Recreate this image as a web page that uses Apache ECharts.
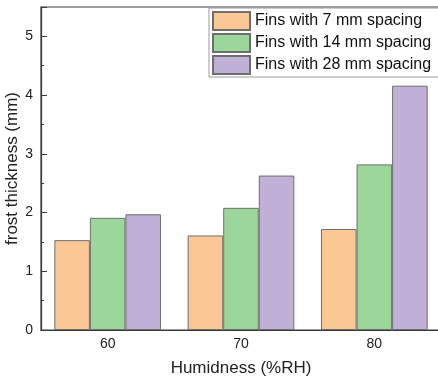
<!DOCTYPE html>
<html>
<head>
<meta charset="utf-8">
<script src="https://cdn.jsdelivr.net/npm/echarts@6/dist/echarts.min.js"></script>
<style>
  html, body { margin: 0; padding: 0; background: #fff; }
  #chart { width: 438px; height: 379px; }
</style>
</head>
<body>
<div id="chart"></div>
<script>
// Humidity levels (%RH) and frost thickness (mm) per fin spacing
const humidity = ['60', '70', '80'];
const fins7mm = [1.53, 1.61, 1.72];
const fins14mm = [1.91, 2.08, 2.82];
const fins28mm = [1.97, 2.63, 4.16];
const seriesNames = ['Fins with 7 mm spacing', 'Fins with 14 mm spacing', 'Fins with 28 mm spacing'];
const seriesColors = ['#FBC795', '#9DD69A', '#C1B0D6'];

const FONT = '"Liberation Sans", Arial, sans-serif';
const AXIS_COLOR = '#3a3a3a';

const chart = echarts.init(document.getElementById('chart'), null, { renderer: 'canvas' });

function barSeries(name, data, color) {
  return {
    name: name,
    type: 'bar',
    data: data,
    barGap: '0%',
    barCategoryGap: '20%',
    itemStyle: { color: color, borderColor: '#6e6e6e', borderWidth: 1 },
    emphasis: { disabled: true }
  };
}

chart.setOption({
  animation: false,
  grid: {
    left: 41, top: 7, width: 400, bottom: 49,
    outerBoundsMode: 'none',
    containLabel: false,
    show: true, borderColor: AXIS_COLOR, borderWidth: 1.2, backgroundColor: 'transparent'
  },
  legend: {
    orient: 'vertical',
    left: 209, top: 8,
    itemWidth: 37, itemHeight: 18, itemGap: 2,
    padding: [3, 20, 2, 3],
    borderColor: '#9a9a9a', borderWidth: 1,
    backgroundColor: '#fff',
    icon: 'rect',
    selectedMode: false,
    textStyle: { fontFamily: FONT, fontSize: 16, color: '#111' },
    data: seriesNames
  },
  xAxis: [
    {
      type: 'category',
      data: humidity,
      name: 'Humidness (%RH)',
      nameLocation: 'middle',
      nameGap: 30,
      nameMoveOverlap: false,
      nameTextStyle: { fontFamily: FONT, fontSize: 17, color: '#222' },
      axisLine: { lineStyle: { color: AXIS_COLOR, width: 1.2 } },
      axisTick: { alignWithLabel: true, inside: true, length: 6, lineStyle: { color: AXIS_COLOR } },
      axisLabel: { fontFamily: FONT, fontSize: 14, color: '#222', margin: 7 }
    },
    {
      type: 'category',
      data: humidity,
      position: 'bottom',
      axisLine: { show: false },
      axisTick: { inside: true, length: 3, lineStyle: { color: AXIS_COLOR } },
      axisLabel: { show: false }
    }
  ],
  yAxis: {
    type: 'value',
    min: 0, max: 5.5, interval: 1,
    name: 'frost thickness (mm)',
    nameLocation: 'middle',
    nameGap: 20,
    nameMoveOverlap: false,
    nameTextStyle: { fontFamily: FONT, fontSize: 17, color: '#222' },
    axisLine: { show: true, lineStyle: { color: AXIS_COLOR, width: 1.2 } },
    axisTick: { show: true, inside: true, length: 6, lineStyle: { color: AXIS_COLOR } },
    minorTick: { show: true, splitNumber: 2, length: 3, lineStyle: { color: AXIS_COLOR } },
    axisLabel: { fontFamily: FONT, fontSize: 14, color: '#222', margin: 8, showMaxLabel: false },
    splitLine: { show: false }
  },
  series: [
    barSeries(seriesNames[0], fins7mm, seriesColors[0]),
    barSeries(seriesNames[1], fins14mm, seriesColors[1]),
    barSeries(seriesNames[2], fins28mm, seriesColors[2])
  ]
});
</script>
</body>
</html>
